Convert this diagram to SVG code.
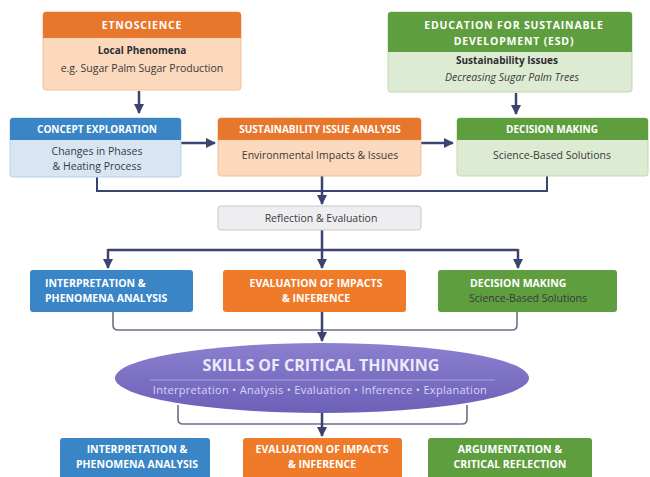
<svg xmlns="http://www.w3.org/2000/svg" width="650" height="477" viewBox="0 0 650 477">
  <defs>
    <marker id="arr" viewBox="0 0 10 10" refX="9" refY="5" markerWidth="4" markerHeight="4" orient="auto">
      <path d="M0,0 L10,5 L0,10 z" fill="#3b4470"/>
    </marker>
    <linearGradient id="ellg" x1="0" y1="0" x2="0" y2="1">
      <stop offset="0" stop-color="#8b80cf"/>
      <stop offset="1" stop-color="#6c60b8"/>
    </linearGradient>
  </defs>
  <style>
    text { font-family: "Open Sans", "Liberation Sans", sans-serif; text-anchor: middle; }
    .hd { font-size: 10px; font-weight: bold; fill: #ffffff; }
    .hw { font-size: 10.5px; font-weight: bold; fill: #ffffff; letter-spacing: 0.8px; }
    .bd { font-size: 10.5px; fill: #3a3a3a; }
    .bb { font-size: 10px; font-weight: bold; fill: #2e2e2e; }
    .wl { font-size: 10.5px; font-weight: bold; fill: #ffffff; }
    .ls { text-anchor: start; }
    .conn { fill: none; stroke: #3b4470; stroke-width: 2.5; }
    .thin { fill: none; stroke: #6a7088; stroke-width: 1.6; }
  </style>
  <rect width="650" height="477" fill="#ffffff"/>

  <!-- connectors -->
  <g id="connectors">
    <line class="conn" x1="139" y1="91" x2="139" y2="113" marker-end="url(#arr)"/>
    <line class="conn" x1="516" y1="93" x2="516" y2="114" marker-end="url(#arr)"/>
    <line class="conn" x1="181" y1="143" x2="215" y2="143" marker-end="url(#arr)"/>
    <line class="conn" x1="421" y1="143" x2="453" y2="143" marker-end="url(#arr)"/>
    <polyline points="97,177 97,191 547,191 547,176" fill="none" stroke="#3b4470" stroke-width="2"/>
    <line class="conn" x1="322" y1="176" x2="322" y2="204" marker-end="url(#arr)"/>
    <line class="conn" x1="322" y1="230" x2="322" y2="250"/>
    <line class="conn" x1="108" y1="250" x2="518" y2="250"/>
    <line class="conn" x1="108" y1="249" x2="108" y2="268" marker-end="url(#arr)"/>
    <line class="conn" x1="322" y1="249" x2="322" y2="268" marker-end="url(#arr)"/>
    <line class="conn" x1="518" y1="249" x2="518" y2="268" marker-end="url(#arr)"/>
    <path class="thin" d="M113,312 V325 Q113,330 118,330 H512 Q517,330 517,325 V312"/>
    <line class="conn" x1="322" y1="312" x2="322" y2="341" marker-end="url(#arr)"/>
    <path class="thin" d="M178,405 V419 Q178,424 183,424 H462 Q467,424 467,419 V405"/>
    <line class="conn" x1="322" y1="410" x2="322" y2="436" marker-end="url(#arr)"/>
  </g>

  <!-- ETNOSCIENCE -->
  <g id="etnoscience">
    <rect x="43" y="12" width="198" height="78" rx="3" fill="#fcd8bc" stroke="#f0c09a"/>
    <path d="M46,12 H238 Q241,12 241,15 V38 H43 V15 Q43,12 46,12 z" fill="#e8772e"/>
    <text class="hw" x="142" y="29" fill="#fde3cc">ETNOSCIENCE</text>
    <text class="bb" x="142" y="54">Local Phenomena</text>
    <text class="bd" x="142" y="72">e.g. Sugar Palm Sugar Production</text>
  </g>

  <!-- ESD -->
  <g id="esd">
    <rect x="388" y="12" width="244" height="80" rx="3" fill="#dcebd2" stroke="#c1d9b0"/>
    <path d="M391,12 H629 Q632,12 632,15 V52 H388 V15 Q388,12 391,12 z" fill="#5e9e3e"/>
    <text class="hw" x="514" y="29">EDUCATION FOR SUSTAINABLE</text>
    <text class="hw" x="514" y="45">DEVELOPMENT (ESD)</text>
    <text class="bb" x="507" y="64" font-size="10.5">Sustainability Issues</text>
    <text class="bd" x="512" y="81" font-style="italic">Decreasing Sugar Palm Trees</text>
  </g>

  <!-- Concept exploration -->
  <g id="concept-exploration">
    <rect x="10" y="118" width="171" height="59" rx="3" fill="#d8e6f4" stroke="#b9d0e8"/>
    <path d="M13,118 H178 Q181,118 181,121 V140 H10 V121 Q10,118 13,118 z" fill="#3a85c5"/>
    <text class="hd" x="97" y="133">CONCEPT EXPLORATION</text>
    <text class="bd" x="97" y="155">Changes in Phases</text>
    <text class="bd" x="97" y="170">&amp; Heating Process</text>
  </g>

  <!-- Sustainability issue analysis -->
  <g id="sustainability-analysis">
    <rect x="218" y="118" width="203" height="58" rx="3" fill="#fcd8bc" stroke="#f0c09a"/>
    <path d="M221,118 H418 Q421,118 421,121 V140 H218 V121 Q218,118 221,118 z" fill="#e8772e"/>
    <text class="hd" x="320" y="133">SUSTAINABILITY ISSUE ANALYSIS</text>
    <text class="bd" x="320" y="159">Environmental Impacts &amp; Issues</text>
  </g>

  <!-- Decision making (top) -->
  <g id="decision-making-top">
    <rect x="457" y="118" width="191" height="58" rx="3" fill="#dcebd2" stroke="#c1d9b0"/>
    <path d="M460,118 H645 Q648,118 648,121 V140 H457 V121 Q457,118 460,118 z" fill="#5e9e3e"/>
    <text class="hd" x="552" y="133" fill="#d9efc8" font-size="10.5">DECISION MAKING</text>
    <text class="bd" x="552" y="159">Science-Based Solutions</text>
  </g>

  <!-- Reflection & evaluation -->
  <g id="reflection">
    <rect x="218" y="206" width="203" height="24" rx="3" fill="#eeeef0" stroke="#c8c8cc"/>
    <text class="bd" x="321" y="222" font-size="11.5">Reflection &amp; Evaluation</text>
  </g>

  <!-- Row 3 -->
  <g id="interpretation-1">
    <rect x="30" y="270" width="163" height="42" rx="3" fill="#3a85c5"/>
    <text class="wl ls" x="45" y="287">INTERPRETATION &amp;</text>
    <text class="wl ls" x="45" y="302">PHENOMENA ANALYSIS</text>
  </g>
  <g id="evaluation-1">
    <rect x="223" y="270" width="183" height="42" rx="3" fill="#ee7a2a"/>
    <text class="wl" x="316" y="287">EVALUATION OF IMPACTS</text>
    <text class="wl" x="316" y="302">&amp; INFERENCE</text>
  </g>
  <g id="decision-making-2">
    <rect x="438" y="270" width="179" height="42" rx="3" fill="#5e9e3e"/>
    <text class="wl ls" x="470" y="287" fill="#d9efc8">DECISION MAKING</text>
    <text class="bd ls" x="469" y="302" fill="#d9efc8">Science-Based Solutions</text>
  </g>

  <!-- Skills of critical thinking -->
  <g id="critical-thinking">
    <ellipse cx="322" cy="378" rx="207" ry="35" fill="url(#ellg)"/>
    <text x="321" y="371" font-size="16" font-weight="bold" fill="#ece9fa">SKILLS OF CRITICAL THINKING</text>
    <line x1="150" y1="380" x2="495" y2="380" stroke="#a9a1dc" stroke-width="1"/>
    <text x="320" y="394" font-size="11" fill="#d9d4f4" letter-spacing="0.3">Interpretation • Analysis • Evaluation • Inference • Explanation</text>
  </g>

  <!-- Row 4 -->
  <g id="interpretation-2">
    <rect x="60" y="438" width="150" height="45" rx="3" fill="#3a85c5"/>
    <text class="wl" x="137" y="453">INTERPRETATION &amp;</text>
    <text class="wl" x="137" y="468">PHENOMENA ANALYSIS</text>
  </g>
  <g id="evaluation-2">
    <rect x="243" y="438" width="159" height="45" rx="3" fill="#ee7a2a"/>
    <text class="wl" x="322" y="453">EVALUATION OF IMPACTS</text>
    <text class="wl" x="322" y="468">&amp; INFERENCE</text>
  </g>
  <g id="argumentation">
    <rect x="428" y="438" width="164" height="45" rx="3" fill="#5e9e3e"/>
    <text class="wl" x="510" y="453">ARGUMENTATION &amp;</text>
    <text class="wl" x="510" y="468">CRITICAL REFLECTION</text>
  </g>
</svg>
